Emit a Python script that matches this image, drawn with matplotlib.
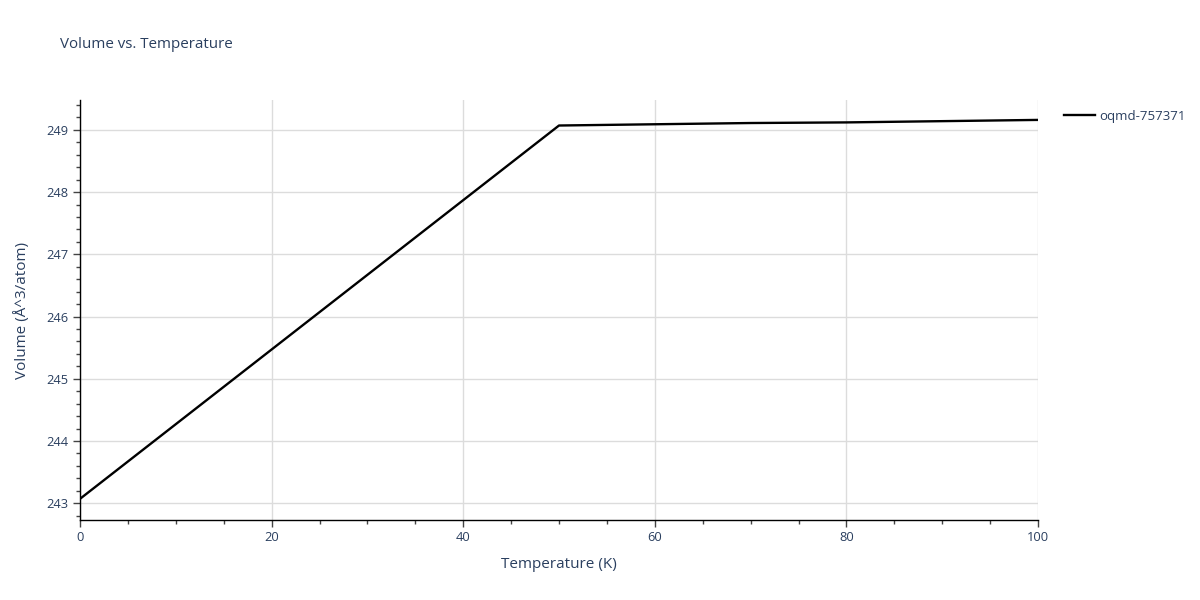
import matplotlib
matplotlib.use("Agg")
import matplotlib.pyplot as plt
from matplotlib.ticker import MultipleLocator

# data
temperature = [0, 10, 20, 30, 40, 50, 60, 70, 80, 90, 100]
volume = [243.07, 244.27, 245.47, 246.67, 247.87, 249.07, 249.09, 249.11, 249.12, 249.14, 249.16]
label = "oqmd-757371"

txt = "#2a3f5f"
plt.rcParams["font.family"] = ["Open Sans", "DejaVu Sans"]

fig = plt.figure(figsize=(12, 6), dpi=100)
ax = fig.add_axes([80 / 1200, 1 - 520 / 600, (1038 - 80) / 1200, 420 / 600])

ax.plot(temperature, volume, color="black", lw=1.7, label=label)

ax.set_xlim(0, 100)
ax.set_ylim(242.73, 249.48)
ax.xaxis.set_major_locator(MultipleLocator(20))
ax.xaxis.set_minor_locator(MultipleLocator(5))
ax.yaxis.set_major_locator(MultipleLocator(1))
ax.yaxis.set_minor_locator(MultipleLocator(0.2))

ax.grid(True, which="major", color="#dcdcdc", lw=1)
ax.set_axisbelow(True)
for s in ["top", "right"]:
    ax.spines[s].set_visible(False)
for s in ["left", "bottom"]:
    ax.spines[s].set_color("black")
    ax.spines[s].set_linewidth(1)

ax.tick_params(which="major", length=5, width=1, color="#444444", labelsize=9.3, labelcolor=txt, pad=3)
ax.tick_params(which="minor", length=3, width=1, color="#444444")

ax.set_xlabel("Temperature (K)", fontsize=11, color=txt, labelpad=9)
ax.set_ylabel("Volume (Å^3/atom)", fontsize=11, color=txt, labelpad=12)
fig.text(60 / 1200, 1 - 45 / 600, "Volume vs. Temperature", fontsize=10.9, color=txt, va="center")

leg = ax.legend(loc="upper left", bbox_to_anchor=(1.015, 1.005), frameon=False,
                fontsize=9.5, handlelength=2.3, handletextpad=0.35, labelcolor=txt)

fig.savefig("out.png", dpi=100)
